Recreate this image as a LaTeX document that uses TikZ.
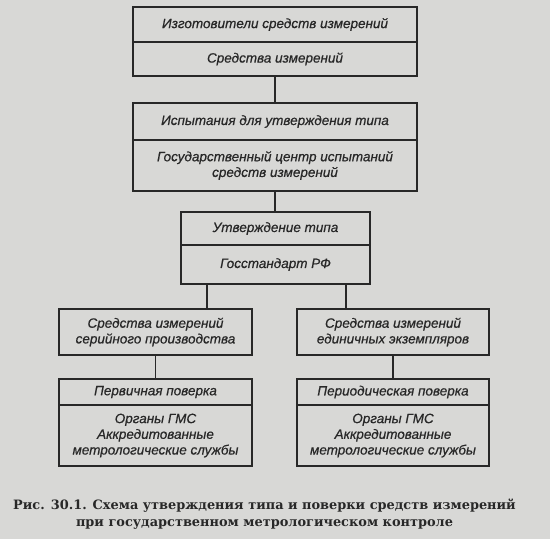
\documentclass[tikz,border=0pt]{standalone}
\usepackage{fontspec}
\newfontfamily\boxfont{Liberation Sans}[FakeBold=0.6]
\newfontfamily\capfont{DejaVu Serif}
\definecolor{paper}{RGB}{216,216,214}
\definecolor{ink}{RGB}{40,40,40}
\tikzset{
  cell/.style={draw=ink, line width=1.8pt, fill=paper, inner sep=0pt, align=center,
    text=ink, font=\boxfont\itshape\fontsize{13.5}{15.7}\selectfont},
  link/.style={draw=ink, line width=1.8pt}
}
\begin{document}
\begin{tikzpicture}[x=1pt,y=-1pt]
\fill[paper] (0,0) rectangle (550,539);
\useasboundingbox (0,0) rectangle (550,539);
% top group
\node[cell, minimum width=284pt, minimum height=35pt] (a1) at (275,24.5) {Изготовители средств измерений};
\node[cell, minimum width=284pt, minimum height=34pt] (a2) at (275,59) {Средства измерений};
\node[cell, minimum width=284pt, minimum height=37pt] (b1) at (275,121.5) {Испытания для утверждения типа};
\node[cell, minimum width=284pt, minimum height=51pt] (b2) at (275,165.5) {Государственный центр испытаний\\средств измерений};
\node[cell, minimum width=189pt, minimum height=33pt] (c1) at (275.5,228.5) {Утверждение типа};
\node[cell, minimum width=189pt, minimum height=39pt] (c2) at (275.5,264.5) {Госстандарт РФ};
% left branch
\node[cell, minimum width=193pt, minimum height=46pt] (dl) at (155.5,332) {Средства измерений\\серийного производства};
\node[cell, minimum width=193pt, minimum height=26pt] (el1) at (155.5,392) {Первичная поверка};
\node[cell, minimum width=193pt, minimum height=61pt] (el2) at (155.5,435.5) {Органы ГМС\\Аккредитованные\\метрологические службы};
% right branch
\node[cell, minimum width=192pt, minimum height=46pt] (dr) at (393,332) {Средства измерений\\единичных экземпляров};
\node[cell, minimum width=192pt, minimum height=26pt] (er1) at (393,392) {Периодическая поверка};
\node[cell, minimum width=192pt, minimum height=61pt] (er2) at (393,435.5) {Органы ГМС\\Аккредитованные\\метрологические службы};
% connectors
\draw[link] (a2.south) -- (b1.north);
\draw[link] (b2.south) -- (b2.south |- c1.north);
\coordinate (jl) at (207,300);
\coordinate (jr) at (346,300);
\draw[link] (jl |- c2.south) -- (jl |- dl.north);
\draw[link] (jr |- c2.south) -- (jr |- dr.north);
\draw[link] (dl.south) -- (el1.north);
\draw[link] (dr.south) -- (er1.north);
% caption
\node[text=ink, align=center, font=\capfont\bfseries\fontsize{12.9}{17}\selectfont] (cap) at (264.5,514)
  {Рис. 30.1. Схема утверждения типа и поверки средств измерений\\при государственном метрологическом контроле};
\end{tikzpicture}
\end{document}
